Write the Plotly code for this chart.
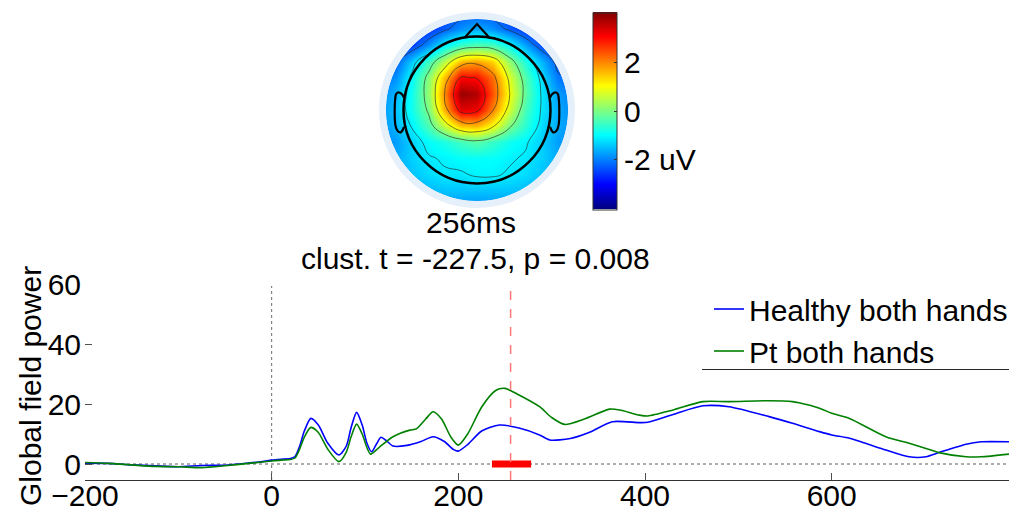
import numpy as np
import plotly.graph_objects as go

# ---------------- data ----------------
t_healthy = [-200, -175, -150, -125, -100, -75, -50, -25, -10, 0, 10, 20, 25, 30, 35, 42, 50, 60, 72, 80, 85, 91, 97,
             102, 107, 112, 117, 122, 130, 145, 160, 173, 185, 195, 200, 210, 225, 244, 265, 287, 298, 320, 340, 365,
             394, 403, 430, 462, 490, 533, 558, 587, 600, 619, 640, 658, 683, 701, 715, 744, 760, 790]
gfp_healthy = [0.3, 0.2, -0.3, -0.6, -0.9, -0.5, -0.4, 0.3, 0.8, 1.3, 1.6, 1.8, 2.5, 6, 11, 15.2, 13, 7, 3, 6, 12,
               17.2, 13, 7, 4.1, 6.5, 8.9, 8, 6, 6.2, 7.5, 9.1, 7.5, 4.8, 4.3, 6.5, 11, 13, 12, 9.7, 8, 8.5, 10.5,
               14.1, 13.8, 13.9, 16.5, 19.4, 19.1, 15.8, 13.6, 10.8, 9.7, 8.6, 6.5, 4.7, 2.4, 2.4, 3.8, 6.6, 7.4, 7.4]

t_pt = [-200, -175, -150, -125, -100, -75, -50, -25, 0, 10, 20, 25, 30, 35, 42, 50, 60, 72, 80, 85, 91, 97, 102, 106,
        115, 130, 148, 155, 165, 173, 182, 192, 200, 210, 225, 240, 250, 265, 287, 300, 314, 335, 362, 373, 394, 403,
        430, 462, 490, 533, 558, 565, 587, 600, 619, 658, 683, 701, 715, 744, 760, 790]
gfp_pt = [0.5, 0.2, -0.3, -0.8, -0.9, -1.2, -0.6, 0.2, 1.0, 1.3, 1.5, 2.0, 5, 9, 12.2, 10.5, 5, 0.8, 4, 9, 13.3, 10,
          5.5, 3.3, 5.5, 9.1, 11.3, 11.7, 15, 17.4, 15, 9, 6.3, 10, 19, 24.5, 25.2, 23, 19.1, 15.5, 13.2, 15, 18.3,
          18, 16.3, 16, 18, 20.8, 20.8, 21.1, 20.8, 20.4, 18.6, 16.9, 15.2, 9.1, 6.9, 5.2, 3.8, 2.4, 2.4, 3.3]

series_names = ["Healthy both hands", "Pt both hands"]
x_ticks = [-200, 0, 200, 400, 600]
y_ticks = [0, 20, 40, 60]
topo_latency = 256
sig_window = [236, 278]
cbar_ticks = [-2, 0, 2]
cbar_labels = ["-2 uV", "0", "2"]

# topography grid (rows listed from top of head to bottom), head radius 0.5
topo_coords = [-0.66, -0.55, -0.44, -0.33, -0.22, -0.11, 0.0, 0.11, 0.22, 0.33, 0.44, 0.55, 0.66]
topo_rows_top_down = [
    [-2.9, -2.9, -2.9, -2.8, -2.6, -2.4, -2.3, -2.4, -2.6, -2.8, -2.9, -2.9, -2.9],
    [-2.9, -2.9, -2.9, -2.7, -2.3, -1.9, -1.7, -1.9, -2.3, -2.7, -2.9, -2.9, -2.9],
    [-2.8, -2.8, -2.6, -1.9, -1.1, -0.6, -0.4, -0.5, -1.0, -1.8, -2.5, -2.7, -2.7],
    [-2.5, -2.3, -1.4, -0.5, 0.5, 1.6, 1.8, 1.4, 0.2, -0.8, -1.6, -2.4, -2.5],
    [-2.2, -1.9, -1.0, 0.1, 1.6, 3.1, 3.0, 2.2, 0.8, -0.4, -1.3, -2.1, -2.3],
    [-2.0, -1.6, -0.9, 0.2, 2.0, 3.9, 3.7, 2.4, 1.0, -0.3, -1.2, -1.8, -2.1],
    [-1.9, -1.5, -0.9, 0.0, 1.7, 3.3, 3.2, 2.0, 0.7, -0.5, -1.2, -1.7, -2.0],
    [-1.9, -1.6, -1.1, -0.4, 0.6, 1.5, 1.6, 1.0, 0.0, -0.7, -1.3, -1.7, -1.9],
    [-2.0, -1.8, -1.4, -1.0, -0.8, -0.5, -0.3, -0.6, -0.9, -1.1, -1.4, -1.8, -2.0],
    [-2.0, -1.7, -1.4, -1.2, -1.1, -1.0, -1.0, -1.0, -1.1, -1.2, -1.4, -1.7, -1.9],
    [-2.1, -1.8, -1.5, -1.3, -1.2, -1.2, -1.1, -1.1, -1.2, -1.3, -1.5, -1.8, -2.0],
    [-2.3, -2.1, -1.8, -1.6, -1.5, -1.5, -1.5, -1.5, -1.5, -1.6, -1.8, -2.1, -2.2],
    [-2.4, -2.4, -2.2, -2.0, -1.9, -1.9, -1.9, -1.9, -1.9, -2.0, -2.2, -2.4, -2.4],
]
topo_z = topo_rows_top_down[::-1]
topo_y = topo_coords  # bottom -> top
cmin, cmax = -4.1, 4.1

# ---------------- styling ----------------
W, H = 1009, 515
FONT = "Liberation Sans, Arial, sans-serif"
FS = 30

def px_x(p):
    return min(max(p / W, 0), 1)

def px_y(p):
    return min(max(1 - p / H, 0), 1)

jet = [[0.0, "rgb(0,0,128)"], [0.125, "rgb(0,0,255)"], [0.375, "rgb(0,255,255)"],
       [0.625, "rgb(255,255,0)"], [0.875, "rgb(255,0,0)"], [1.0, "rgb(128,0,0)"]]

fig = go.Figure()

# invisible trace that carries the tick-label axes (drawn first, underneath)
fig.add_trace(go.Scatter(x=[x_ticks[0]], y=[y_ticks[0]], mode="markers", marker=dict(opacity=0),
                         xaxis="x3", yaxis="y3", showlegend=False, hoverinfo="skip"))
fig.add_trace(go.Scatter(x=t_healthy, y=gfp_healthy, mode="lines", name=series_names[0],
                         line=dict(color="rgb(0,0,255)", width=1.6, shape="spline", smoothing=0.7)))
fig.add_trace(go.Scatter(x=t_pt, y=gfp_pt, mode="lines", name=series_names[1],
                         line=dict(color="rgb(0,128,0)", width=1.6, shape="spline", smoothing=0.7)))
fig.add_trace(go.Scatter(x=sig_window, y=[0, 0], mode="lines", showlegend=False,
                         line=dict(color="rgb(255,0,0)", width=7)))

# topography
TOPO_CX, TOPO_CY, SCALE = 477, 110, 147.0   # pixel centre, px per unit
TR = 0.74
fig.add_trace(go.Heatmap(x=topo_coords, y=topo_y, z=topo_z, zsmooth="best", colorscale=jet,
                         zmin=cmin, zmax=cmax, xaxis="x2", yaxis="y2", showlegend=False,
                         colorbar=dict(x=px_x(592.5), xanchor="left", y=px_y(111), yanchor="middle",
                                       len=197, lenmode="pixels", thickness=24, thicknessmode="pixels",
                                       outlinecolor="#333", outlinewidth=1,
                                       tickvals=cbar_ticks, ticktext=cbar_labels, ticks="inside",
                                       ticklen=3, tickcolor="#333",
                                       tickfont=dict(family=FONT, size=FS, color="black"), xpad=0, ypad=0)))
fig.add_trace(go.Contour(x=topo_coords, y=topo_y, z=topo_z, xaxis="x2", yaxis="y2", showscale=False,
                         contours=dict(coloring="none", start=-2.2, end=3.2, size=1.05),
                         line=dict(color="rgba(40,40,40,0.8)", width=0.8, smoothing=1.3),
                         hoverinfo="skip", showlegend=False))

shapes = []
shapes.append(dict(type="line", xref="x", yref="y", x0=-200, x1=790, y0=0, y1=0,
                   line=dict(color="rgb(90,90,90)", width=1, dash="dot"), layer="below"))
shapes.append(dict(type="line", xref="x", yref="paper", x0=0, x1=0, y0=px_y(480), y1=px_y(286),
                   line=dict(color="rgb(110,110,110)", width=1, dash="dot"), layer="below"))
shapes.append(dict(type="line", xref="x", yref="paper", x0=topo_latency, x1=topo_latency,
                   y0=px_y(480), y1=px_y(283),
                   line=dict(color="rgb(255,120,120)", width=1.5, dash="dash")))
shapes.append(dict(type="line", xref="paper", yref="paper", x0=px_x(702), x1=1, y0=px_y(369.5),
                   y1=px_y(369.5), line=dict(color="rgb(40,40,40)", width=1)))

R_DISK = 0.62
ang = np.linspace(0, 2 * np.pi, 121)
circ = " ".join(f"L{R_DISK*np.cos(a):.4f},{R_DISK*np.sin(a):.4f}" for a in ang[1:])
mask_path = (f"M-{TR},-{TR} L-{TR},{TR} L{TR},{TR} L{TR},-{TR} Z "
             f"M{R_DISK:.4f},0 {circ} Z")
shapes.append(dict(type="path", xref="x2", yref="y2", path=mask_path, fillcolor="white",
                   line=dict(width=0), layer="above"))
r_ring = 0.6435
shapes.append(dict(type="circle", xref="x2", yref="y2", x0=-r_ring, x1=r_ring, y0=-r_ring, y1=r_ring,
                   line=dict(color="rgb(230,240,251)", width=7), layer="above"))
shapes.append(dict(type="circle", xref="x2", yref="y2", x0=-0.5, x1=0.5, y0=-0.5, y1=0.5,
                   line=dict(color="black", width=2.5), layer="above"))
shapes.append(dict(type="path", xref="x2", yref="y2",
                   path="M-0.085,0.492 L0,0.585 L0.085,0.492",
                   line=dict(color="black", width=2.2), layer="above"))
ear_l = "M-0.497,0.085 C-0.51,0.12 -0.54,0.13 -0.552,0.105 C-0.562,0.06 -0.562,-0.05 -0.556,-0.10 " \
        "C-0.55,-0.14 -0.53,-0.16 -0.515,-0.15 C-0.505,-0.14 -0.50,-0.125 -0.497,-0.115"
ear_r = "M0.497,0.085 C0.51,0.12 0.54,0.13 0.552,0.105 C0.562,0.06 0.562,-0.05 0.556,-0.10 " \
        "C0.55,-0.14 0.53,-0.16 0.515,-0.15 C0.505,-0.14 0.50,-0.125 0.497,-0.115"
shapes.append(dict(type="path", xref="x2", yref="y2", path=ear_l, line=dict(color="black", width=2.2),
                   layer="above"))
shapes.append(dict(type="path", xref="x2", yref="y2", path=ear_r, line=dict(color="black", width=2.2),
                   layer="above"))

annotations = [
    dict(text=f"{topo_latency}ms", x=px_x(471), y=px_y(222), xref="paper", yref="paper",
         showarrow=False, font=dict(family=FONT, size=FS, color="black"), xanchor="center", yanchor="middle"),
    dict(text="clust. t = -227.5, p = 0.008", x=px_x(475), y=px_y(258), xref="paper", yref="paper",
         showarrow=False, font=dict(family=FONT, size=FS, color="black"), xanchor="center", yanchor="middle"),
    dict(text="Global field power", x=px_x(30), y=px_y(386), xref="paper", yref="paper", textangle=-90,
         showarrow=False, font=dict(family=FONT, size=FS, color="black"), xanchor="center", yanchor="middle"),
]

X_DOM = [px_x(85), 1]
Y_DOM = [px_y(480), px_y(284)]
X_RANGE = [-200, 790]
Y_RANGE = [-5.33, 60]
half = TR * SCALE
fig.update_layout(
    width=W, height=H, margin=dict(l=0, r=0, t=0, b=0, autoexpand=False),
    paper_bgcolor="white", plot_bgcolor="rgba(0,0,0,0)",
    font=dict(family=FONT, size=FS, color="black"),
    # main axes: line + tick marks
    xaxis=dict(domain=X_DOM, range=X_RANGE, tickvals=x_ticks, ticks="inside", ticklen=7,
               tickcolor="rgb(80,80,80)", showline=True, linecolor="rgb(50,50,50)", linewidth=1,
               showgrid=False, zeroline=False, anchor="y", automargin=False, showticklabels=False),
    yaxis=dict(domain=Y_DOM, range=Y_RANGE, tickvals=y_ticks, ticks="inside",
               ticklen=7, tickcolor="rgb(80,80,80)", showline=False, showgrid=False, zeroline=False,
               anchor="x", automargin=False, showticklabels=False),
    # label axes (same scale, labels placed closer to the plot)
    xaxis3=dict(domain=X_DOM, range=X_RANGE, tickvals=x_ticks, ticks="", showline=False, showgrid=False,
                zeroline=False, anchor="free", position=px_y(475), automargin=False,
                tickfont=dict(family=FONT, size=FS, color="black")),
    yaxis3=dict(domain=Y_DOM, range=Y_RANGE, tickvals=y_ticks, ticks="", showline=False, showgrid=False,
                zeroline=False, anchor="free", position=px_x(81), automargin=False, side="left",
                tickfont=dict(family=FONT, size=FS, color="black")),
    xaxis2=dict(domain=[px_x(TOPO_CX - half), px_x(TOPO_CX + half)], range=[-TR, TR], visible=False,
                anchor="y2", automargin=False),
    yaxis2=dict(domain=[px_y(TOPO_CY + half), px_y(TOPO_CY - half)], range=[-TR, TR], visible=False,
                anchor="x2", automargin=False),
    legend=dict(x=px_x(709), y=px_y(283), xanchor="left", yanchor="top", bgcolor="rgba(0,0,0,0)",
                font=dict(family=FONT, size=FS, color="black"), borderwidth=0, tracegroupgap=0),
    shapes=shapes, annotations=annotations, showlegend=True,
)

fig.write_html("out.html")
